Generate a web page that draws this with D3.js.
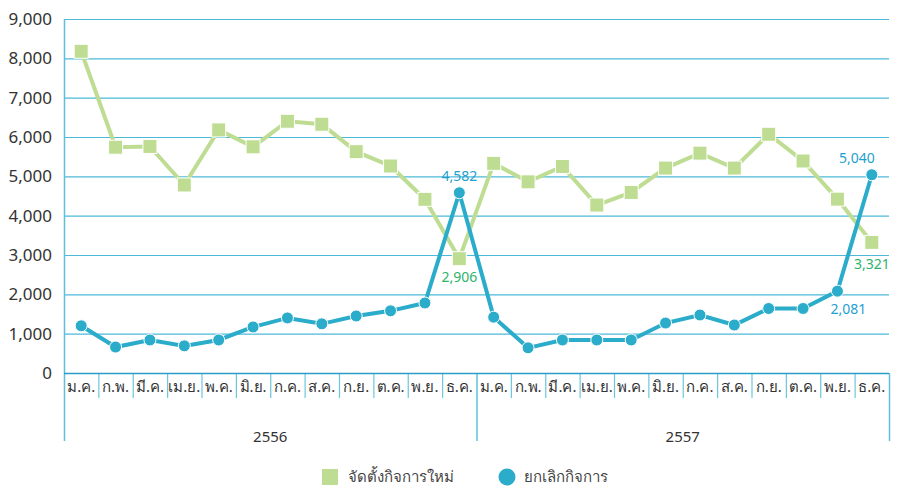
<!DOCTYPE html>
<html>
<head>
<meta charset="utf-8">
<script src="https://cdn.jsdelivr.net/npm/d3@7"></script>
<style>
  body { margin: 0; background: #fff; }
  svg { font-family: "Noto Sans", "DejaVu Sans", sans-serif; }
</style>
</head>
<body>
<div id="app"></div>
<script>
// data
const months = ['ม.ค.', 'ก.พ.', 'มี.ค.', 'เม.ย.', 'พ.ค.', 'มิ.ย.', 'ก.ค.', 'ส.ค.', 'ก.ย.', 'ต.ค.', 'พ.ย.', 'ธ.ค.'];
const years = ['2556', '2557'];
const newBiz = [8180, 5740, 5760, 4780, 6180, 5750, 6400, 6325, 5627, 5263, 4416, 2906,
                5330, 4860, 5250, 4270, 4590, 5210, 5590, 5210, 6070, 5390, 4420, 3321];
const closedBiz = [1200, 660, 840, 690, 840, 1170, 1400, 1250, 1450, 1580, 1780, 4582,
                   1420, 640, 840, 840, 840, 1270, 1475, 1220, 1640, 1640, 2081, 5040];
const yTicks = [0, 1000, 2000, 3000, 4000, 5000, 6000, 7000, 8000, 9000];
const seriesNames = ['จัดตั้งกิจการใหม่', 'ยกเลิกกิจการ'];
// labelled points: [index, series]
const labelled = [[11, 'closed'], [11, 'new'], [22, 'closed'], [23, 'closed'], [23, 'new']];

const W = 898, H = 486;
const mLeft = 64, mRight = 889, mTop = 19, mBottom = 373;
const green = '#bedd93', blue = '#2aacca';

const cats = d3.range(newBiz.length);
const x = d3.scaleBand().domain(cats).range([mLeft, mRight]);
const xYear = d3.scaleBand().domain(years).range([mLeft, mRight]);
const y = d3.scaleLinear().domain([0, 9000]).range([mBottom, mTop]);
const fmt = d3.format(',');

const svg = d3.select('#app').append('svg')
  .attr('width', W)
  .attr('height', H);

// grid
svg.append('g')
  .selectAll('line')
  .data(yTicks.filter(d => d > 0))
  .enter()
  .append('line')
  .attr('x1', mLeft).attr('x2', mRight)
  .attr('y1', d => y(d) + 0.5).attr('y2', d => y(d) + 0.5)
  .style('stroke', '#4cb9d9')
  .style('stroke-width', 1.2);

// y labels
svg.append('g')
  .selectAll('text')
  .data(yTicks)
  .enter()
  .append('text')
  .attr('x', 52)
  .attr('y', d => y(d))
  .attr('dy', '0.35em')
  .attr('text-anchor', 'end')
  .style('font-size', '17px')
  .style('fill', '#333')
  .text(d => fmt(d));

// month separators
svg.append('g')
  .selectAll('line')
  .data(cats.slice(1).filter(i => i % 12 !== 0))
  .enter()
  .append('line')
  .attr('x1', d => x(d) + 0.5).attr('x2', d => x(d) + 0.5)
  .attr('y1', mBottom).attr('y2', mBottom + 25)
  .style('stroke', '#6cc6e0')
  .style('stroke-width', 1.2);

// year separators and y axis
svg.append('g')
  .selectAll('line')
  .data([mLeft, xYear('2557'), mRight])
  .enter()
  .append('line')
  .attr('x1', d => d + 0.5).attr('x2', d => d + 0.5)
  .attr('y1', (d, i) => i === 0 ? mTop : mBottom)
  .attr('y2', 441)
  .style('stroke', '#5ec0dd')
  .style('stroke-width', 1.5);

// zero line
svg.append('line')
  .attr('x1', mLeft).attr('x2', mRight)
  .attr('y1', mBottom + 0.5).attr('y2', mBottom + 0.5)
  .style('stroke', '#2a9cc8')
  .style('stroke-width', 1.5);

// month labels
svg.append('g')
  .selectAll('text')
  .data(cats)
  .enter()
  .append('text')
  .attr('x', d => x(d) + x.bandwidth() / 2)
  .attr('y', mBottom + 19)
  .attr('text-anchor', 'middle')
  .style('font-size', '15px')
  .style('fill', '#333')
  .text(d => months[d % 12]);

// year labels
svg.append('g')
  .selectAll('text')
  .data(years)
  .enter()
  .append('text')
  .attr('x', d => xYear(d) + xYear.bandwidth() / 2)
  .attr('y', 442)
  .attr('text-anchor', 'middle')
  .style('font-size', '15px')
  .style('fill', '#333')
  .text(d => d);

const cx = i => x(i) + x.bandwidth() / 2;
const line = vals => d3.line().x((d, i) => cx(i)).y(d => y(d))(vals);

// new businesses
svg.append('path')
  .attr('d', line(newBiz))
  .style('fill', 'none')
  .style('stroke', green)
  .style('stroke-width', 4);

// closed businesses
svg.append('path')
  .attr('d', line(closedBiz))
  .style('fill', 'none')
  .style('stroke', blue)
  .style('stroke-width', 4);

svg.append('g')
  .selectAll('rect')
  .data(newBiz)
  .enter()
  .append('rect')
  .attr('x', (d, i) => cx(i) - 7)
  .attr('y', d => y(d) - 7)
  .attr('width', 14).attr('height', 14)
  .style('fill', green)
  .style('stroke', '#fff')
  .style('stroke-width', 1);

svg.append('g')
  .selectAll('circle')
  .data(closedBiz)
  .enter()
  .append('circle')
  .attr('cx', (d, i) => cx(i))
  .attr('cy', d => y(d))
  .attr('r', 6)
  .style('fill', blue)
  .style('stroke', '#fff')
  .style('stroke-width', 1);

// data labels
const labelPos = {
  '11closed': [0, -17], '11new': [0, 18], '22closed': [11, 18],
  '23closed': [-15, -17], '23new': [0, 22]
};
svg.append('g')
  .selectAll('text')
  .data(labelled)
  .enter()
  .append('text')
  .attr('x', d => cx(d[0]) + labelPos[d[0] + d[1]][0])
  .attr('y', d => y(d[1] === 'new' ? newBiz[d[0]] : closedBiz[d[0]]) + labelPos[d[0] + d[1]][1])
  .attr('dy', '0.35em')
  .attr('text-anchor', 'middle')
  .style('font-size', '14px')
  .style('fill', d => d[1] === 'new' ? '#2db36c' : '#1f9fcf')
  .text(d => fmt(d[1] === 'new' ? newBiz[d[0]] : closedBiz[d[0]]));

// legend
const legend = svg.append('g').style('font-size', '15px').style('fill', '#444');
legend.append('rect')
  .attr('x', 322).attr('y', 469).attr('width', 16).attr('height', 16)
  .style('fill', green);
legend.append('text')
  .attr('x', 348).attr('y', 477).attr('dy', '0.35em')
  .text(seriesNames[0]);
legend.append('circle')
  .attr('cx', 507).attr('cy', 477).attr('r', 8.5)
  .style('fill', blue);
legend.append('text')
  .attr('x', 524).attr('y', 477).attr('dy', '0.35em')
  .text(seriesNames[1]);
</script>
</body>
</html>
